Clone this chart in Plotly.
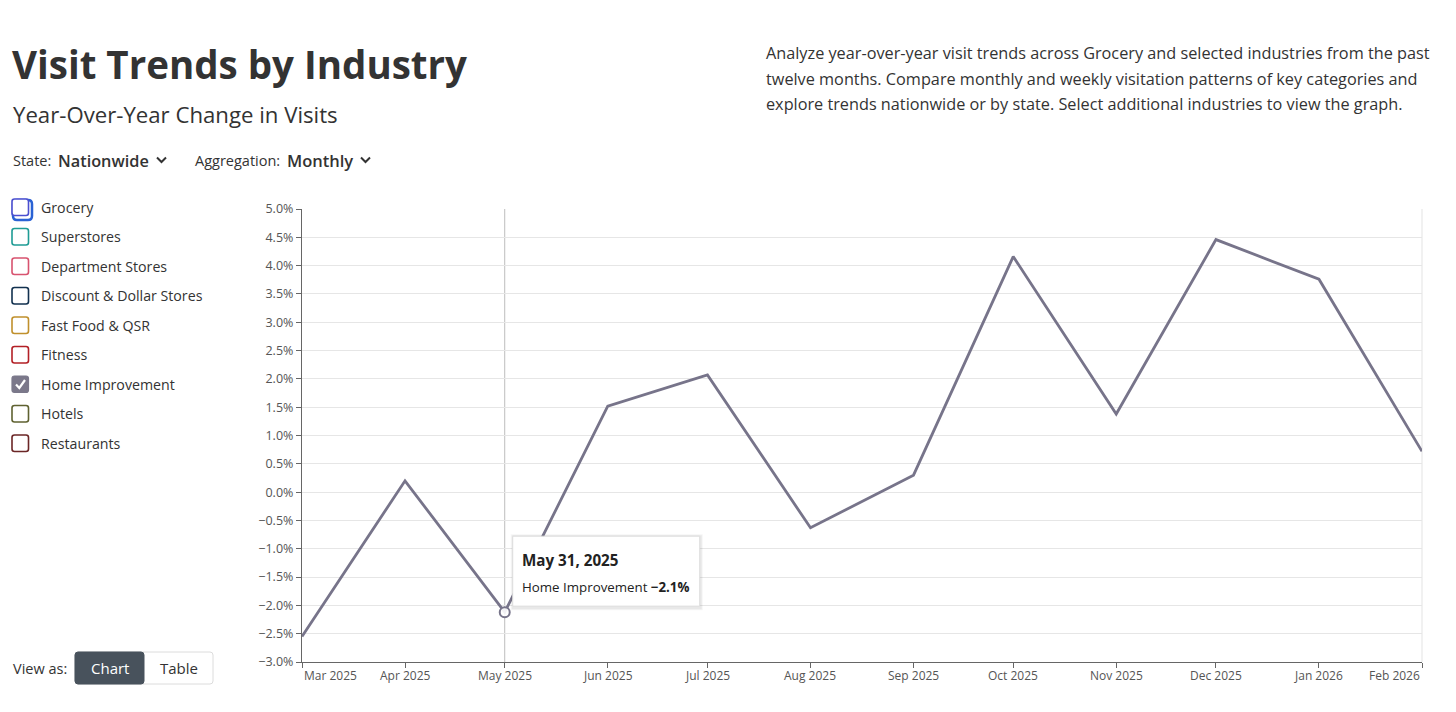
import plotly.graph_objects as go

# ---------------- data ----------------
months = ["2025-03-01", "2025-04-01", "2025-05-01", "2025-06-01", "2025-07-01", "2025-08-01",
          "2025-09-01", "2025-10-01", "2025-11-01", "2025-12-01", "2026-01-01", "2026-02-01"]
tick_labels = ["Mar 2025", "Apr 2025", "May 2025", "Jun 2025", "Jul 2025", "Aug 2025",
               "Sep 2025", "Oct 2025", "Nov 2025", "Dec 2025", "Jan 2026", "Feb 2026"]
home_improvement = [-2.55, 0.2, -2.12, 1.52, 2.07, -0.63, 0.3, 4.16, 1.38, 4.46, 3.76, 0.72]
industries = ["Grocery", "Superstores", "Department Stores", "Discount & Dollar Stores",
              "Fast Food & QSR", "Fitness", "Home Improvement", "Hotels", "Restaurants"]
industry_colors = ["#4b4fcf", "#1f9c95", "#d8536f", "#12314f", "#c0902c",
                   "#b32026", "#7b788a", "#5f6231", "#6b2626"]
selected = "Home Improvement"
hover_index = 2
hover_label = "May 31, 2025"

OFF = 8                      # page body margin of the html page
W, H = 1456 - OFF, 712 - OFF  # figure size
L, R, T, B = 302, 1422, 209, 662   # plot area in page pixels
FONT = "Open Sans"
LINE = "#77748a"
TXT = "#333333"


def PX(x):
    return (x - L) / (R - L)


def PY(y):
    return 1 - (y - T) / (B - T)


annotations = []
shapes = []


def text(x, y, s, size, color=TXT, weight=400, xanchor="left", yanchor="middle"):
    annotations.append(dict(x=PX(x), y=PY(y), xref="paper", yref="paper", text=s,
                            showarrow=False, xanchor=xanchor, yanchor=yanchor,
                            font=dict(family=FONT, size=size, color=color, weight=weight)))


def rrect(x0, y0, x1, y1, r, line_color, fill="white", width=1.5):
    p = (f"M {PX(x0 + r)},{PY(y0)} L {PX(x1 - r)},{PY(y0)} Q {PX(x1)},{PY(y0)} {PX(x1)},{PY(y0 + r)} "
         f"L {PX(x1)},{PY(y1 - r)} Q {PX(x1)},{PY(y1)} {PX(x1 - r)},{PY(y1)} "
         f"L {PX(x0 + r)},{PY(y1)} Q {PX(x0)},{PY(y1)} {PX(x0)},{PY(y1 - r)} "
         f"L {PX(x0)},{PY(y0 + r)} Q {PX(x0)},{PY(y0)} {PX(x0 + r)},{PY(y0)} Z")
    shapes.append(dict(type="path", path=p, xref="paper", yref="paper", fillcolor=fill,
                       line=dict(color=line_color, width=width), layer="above"))


def polyline(pts, color, width=2):
    p = "M " + " L ".join(f"{PX(a)},{PY(b)}" for a, b in pts)
    shapes.append(dict(type="path", path=p, xref="paper", yref="paper",
                       line=dict(color=color, width=width), layer="above"))


# ---------------- header ----------------
text(10, 64, "Visit Trends by Industry", 38.5, weight=700)
text(10.5, 114, "Year-Over-Year Change in Visits", 22.2)
desc = ["Analyze year-over-year visit trends across Grocery and selected industries from the past",
        "twelve months. Compare monthly and weekly visitation patterns of key categories and",
        "explore trends nationwide or by state. Select additional industries to view the graph."]
for i, line in enumerate(desc):
    text(764, 53 + i * 25.5, line, 16.25)

text(11, 161, "State:", 14.5)
text(56, 160.5, "Nationwide", 16.3, weight=600)
polyline([(157, 157.5), (161.5, 162), (166, 157.5)], TXT, 2)
text(193, 161, "Aggregation:", 14.5)
text(285, 160.5, "Monthly", 16.5, weight=600)
polyline([(361, 157.5), (365.5, 162), (370, 157.5)], TXT, 2)

# ---------------- legend ----------------
for i, (name, col) in enumerate(zip(industries, industry_colors)):
    cy = 207 + i * 29.5
    if i == 0:
        rrect(13, cy - 7, 32, cy + 13, 4, "#2a62d4", fill="rgba(0,0,0,0)", width=2.5)
    if name == selected:
        rrect(12, cy - 8, 28.5, cy + 8.5, 2.5, col, fill=col, width=1.2)
        polyline([(16, cy + 0.5), (19.3, cy + 4), (25, cy - 4)], "white", 2.2)
    else:
        rrect(12, cy - 8, 28.5, cy + 8.5, 2.5, col, fill="white", width=1.6)
    text(38.5, cy, name, 14.2)

# ---------------- view-as buttons ----------------
text(11, 668, "View as:", 14.5)
rrect(75, 652, 213, 684, 3, "#dcdcdc", fill="white", width=1)
rrect(75, 652, 144, 684, 3, "#48525c", fill="#48525c", width=1)
text(109.5, 668, "Chart", 15, color="white", xanchor="center")
text(178.5, 668, "Table", 15, xanchor="center")

# ---------------- chart ----------------
fig = go.Figure()
fig.add_trace(go.Scatter(x=months, y=home_improvement, mode="lines",
                         line=dict(color=LINE, width=2.8), name=selected,
                         hoverinfo="skip", cliponaxis=False))
fig.add_trace(go.Scatter(x=[months[hover_index]], y=[home_improvement[hover_index]], mode="markers",
                         marker=dict(size=10, color="rgba(255,255,255,0.9)",
                                     line=dict(color=LINE, width=2)),
                         hoverinfo="skip", cliponaxis=False))

# right border of plot
shapes.append(dict(type="line", xref="paper", yref="paper", x0=1, x1=1, y0=0, y1=1,
                   line=dict(color="#e3e3e3", width=1), layer="below"))
# hover crosshair
shapes.append(dict(type="line", xref="x", yref="paper", x0=months[hover_index], x1=months[hover_index],
                   y0=0, y1=1, line=dict(color="#bdbdbd", width=1), layer="below"))
# tooltip box (shadow + box), anchored at the hovered point
for off, col in [(3, "rgba(0,0,0,0.04)"), (2, "rgba(0,0,0,0.05)")]:
    shapes.append(dict(type="rect", xref="x", yref="y", xsizemode="pixel", ysizemode="pixel",
                       xanchor=months[hover_index], yanchor=home_improvement[hover_index],
                       x0=8 - off + 1, x1=195 + off, y0=5 - off, y1=76 + off - 1,
                       fillcolor=col, line=dict(width=0), layer="above"))
shapes.append(dict(type="rect", xref="x", yref="y", xsizemode="pixel", ysizemode="pixel",
                   xanchor=months[hover_index], yanchor=home_improvement[hover_index],
                   x0=8, x1=195, y0=6, y1=76, fillcolor="white",
                   line=dict(color="#dddddd", width=1), layer="above"))
annotations.append(dict(x=months[hover_index], y=home_improvement[hover_index], xref="x", yref="y",
                        text=f"<b>{hover_label}</b>", showarrow=False, xanchor="left", yanchor="middle",
                        xshift=15, yshift=52, font=dict(family=FONT, size=15.2, color="#222")))
annotations.append(dict(x=months[hover_index], y=home_improvement[hover_index], xref="x", yref="y",
                        text=f"{selected} <b>\u2212{abs(home_improvement[hover_index]):.1f}%</b>",
                        showarrow=False, xanchor="left", yanchor="middle",
                        xshift=15, yshift=25, font=dict(family=FONT, size=13.3, color="#222")))

# x tick labels (first / last aligned inward like the original)
for i, (m, lab) in enumerate(zip(months, tick_labels)):
    anchor = "left" if i == 0 else ("right" if i == len(months) - 1 else "center")
    annotations.append(dict(x=m, y=0, xref="x", yref="paper", text=lab, showarrow=False,
                            xanchor=anchor, yanchor="top", yshift=-3,
                            font=dict(family=FONT, size=12, color="#555")))

fig.update_layout(
    width=W, height=H, autosize=False,
    margin=dict(l=L - OFF, r=W - (R - OFF), t=T - OFF, b=H - (B - OFF), pad=0),
    paper_bgcolor="white", plot_bgcolor="white",
    showlegend=False,
    font=dict(family=FONT, color="#555"),
    shapes=shapes, annotations=annotations,
    xaxis=dict(type="date", range=[months[0], months[-1]], tickvals=months,
               ticktext=[""] * len(months),
               showgrid=False, showline=True, linecolor="#666", linewidth=1.2,
               ticks="outside", ticklen=5, tickcolor="#666", zeroline=False,
               tickfont=dict(family=FONT, size=12, color="#555")),
    yaxis=dict(range=[-3, 5], dtick=0.5, tick0=0, tickformat=".1f", ticksuffix="%",
               showgrid=True, gridcolor="#e6e6e6", gridwidth=1,
               showline=True, linecolor="#666", linewidth=1.2, zeroline=False,
               ticks="outside", ticklen=5, tickcolor="#666",
               tickfont=dict(family=FONT, size=12.5, color="#555")),
)

fig.write_html("out.html")
